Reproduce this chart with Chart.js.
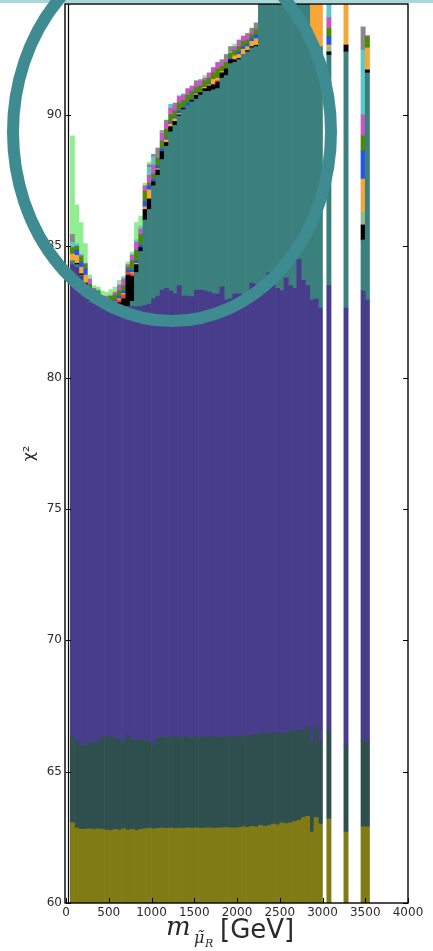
<!DOCTYPE html>
<html>
<head>
<meta charset="utf-8">
<script src="https://cdn.jsdelivr.net/npm/chart.js@4.4.1/dist/chart.umd.min.js"></script>
<style>
    body { margin: 0; background: linear-gradient(#a9d8db 0, #a9d8db 3px, #fff 3px); }
    #wrap { position: relative; width: 433px; height: 951px; }
    .lbl { position: absolute; white-space: nowrap; color: #2a2a2a; line-height: 1; }
    .mi { font-family: "DejaVu Serif", serif; font-style: italic; }
</style>
</head>
<body>
<div id="wrap">
    <canvas id="chi2Chart" width="433" height="951"></canvas>
    <span class="lbl mi" style="left:166px; top:913px; font-size:26px;">m</span>
    <span class="lbl mi" style="left:194px; top:930px; font-size:16px;">μ̃</span>
    <span class="lbl mi" style="left:205px; top:938px; font-size:11px;">R</span>
    <span class="lbl" style="left:220px; top:916px; font-size:26px; font-family:'DejaVu Sans', sans-serif;">[GeV]</span>
</div>
<script>
// 直方图分箱中心 (GeV)
const binCenters = [75, 125, 175, 225, 275, 325, 375, 425, 475, 525,
    575, 625, 675, 725, 775, 825, 875, 925, 975, 1025,
    1075, 1125, 1175, 1225, 1275, 1325, 1375, 1425, 1475, 1525,
    1575, 1625, 1675, 1725, 1775, 1825, 1875, 1925, 1975, 2025,
    2075, 2125, 2175, 2225, 2275, 2325, 2375, 2425, 2475, 2525,
    2575, 2625, 2675, 2725, 2775, 2825, 2875, 2925, 2975,
    3075, 3275, 3475, 3525];

// 主要层的上边界 (chi^2)
const oliveTop = [63.05, 62.85, 62.8, 62.8, 62.82, 62.8, 62.82, 62.8, 62.78, 62.76,
    62.8, 62.78, 62.82, 62.78, 62.8, 62.76, 62.8, 62.82, 62.84, 62.82,
    62.84, 62.85, 62.84, 62.85, 62.83, 62.85, 62.84, 62.86, 62.85, 62.86,
    62.84, 62.85, 62.86, 62.84, 62.85, 62.86, 62.87, 62.86, 62.85, 62.87,
    62.9, 62.88, 62.92, 62.9, 62.95, 62.92, 62.95, 63.0, 62.98, 63.05,
    63.02, 63.05, 63.1, 63.15, 63.25, 63.3, 62.7, 63.25, 63.0,
    63.2, 62.7, 62.9, 62.9];
const slateTop = [66.33, 66.14, 66.0, 65.98, 66.1, 66.1, 66.12, 66.33, 66.32, 66.33,
    66.3, 66.2, 66.1, 66.4, 66.2, 66.2, 66.22, 66.2, 66.15, 66.0,
    66.3, 66.32, 66.3, 66.32, 66.33, 66.31, 66.33, 66.32, 66.3, 66.33,
    66.32, 66.34, 66.32, 66.33, 66.31, 66.33, 66.32, 66.34, 66.33, 66.32,
    66.33, 66.38, 66.37, 66.4, 66.46, 66.44, 66.47, 66.45, 66.48, 66.46,
    66.47, 66.56, 66.55, 66.58, 66.56, 66.7, 66.14, 66.7, 66.14,
    66.52, 66.0, 66.2, 66.1];
const purpleTop = [84.3, 84.2, 83.85, 83.45, 82.85, 82.8, 82.85, 82.75, 82.7, 82.7,
    82.65, 82.7, 82.65, 82.65, 82.7, 82.7, 82.7, 82.75, 82.8, 83.0,
    83.1, 83.33, 83.4, 83.3, 83.2, 83.5, 83.1, 83.1, 83.08, 83.33,
    83.33, 83.3, 83.25, 83.2, 83.2, 83.45, 82.95, 83.0, 83.2, 83.2,
    83.1, 83.05, 83.6, 83.55, 83.5, 83.4, 84.0, 83.5, 83.4, 83.3,
    83.8, 83.5, 83.4, 84.5, 83.7, 83.5, 82.95, 83.0, 82.65,
    83.5, 82.65, 83.3, 82.95];
const tealTop = [84.45, 84.3, 83.9, 83.5, 82.9, 82.85, 82.9, 82.8, 82.75, 82.75,
    82.7, 82.75, 82.7, 82.7, 82.9, 84.0, 84.8, 86.0, 86.4, 87.3,
    87.7, 88.3, 88.8, 89.35, 89.6, 89.95, 90.2, 90.35, 90.5, 90.6,
    90.75, 90.9, 90.9, 90.95, 91.0, 91.4, 91.5, 91.95, 92.0, 92.1,
    92.3, 92.4, 92.55, 92.6, 95, 95, 95, 95, 95, 95,
    95, 95, 95, 95, 95, 95, 92.5, 92.6, 92.6,
    92.28, 92.4, 85.24, 91.6];

// 顶部细层的厚度
const blackW = [0, 0.05, 0.05, 0.1, 0.15, 0.1, 0.1, 0.05, 0.05, 0.05,
    0.1, 0.1, 0.3, 1.2, 0.95, 0.3, 0.15, 0.4, 0.4, 0.15,
    0.2, 0.3, 0.15, 0.2, 0.15, 0.05, 0.05, 0, 0.05, 0.15,
    0.1, 0.1, 0.2, 0.2, 0.25, 0.2, 0.25, 0.15, 0.1, 0.05,
    0, 0.05, 0.05, 0.05, 0, 0, 0, 0, 0, 0,
    0, 0, 0, 0, 0, 0, 0, 0, 0,
    0.12, 0.26, 0.57, 0.11];
const redW = [0, 0, 0, 0, 0, 0, 0, 0, 0.05, 0.05,
    0.1, 0.1, 0.15, 0.1, 0.1, 0, 0, 0, 0, 0,
    0, 0, 0, 0, 0, 0, 0, 0, 0, 0,
    0, 0, 0, 0, 0.05, 0, 0, 0, 0, 0,
    0, 0, 0, 0, 0, 0, 0, 0, 0, 0,
    0, 0, 0, 0, 0, 0, 0, 0, 0,
    0, 0, 0, 0];
const sageW = [0, 0, 0, 0, 0, 0, 0, 0, 0, 0,
    0, 0, 0, 0, 0, 0, 0, 0, 0, 0,
    0, 0, 0, 0, 0, 0, 0, 0, 0, 0,
    0, 0, 0, 0, 0, 0, 0, 0, 0, 0,
    0, 0, 0, 0, 0, 0, 0, 0, 0, 0,
    0, 0, 0, 0, 0, 0, 0, 0, 0,
    0.15, 0, 0.49, 0];
const orangeW = [0.25, 0.3, 0.25, 0.3, 0.3, 0.25, 0.15, 0.1, 0, 0.05,
    0, 0.05, 0.05, 0, 0.05, 0.05, 0, 0.1, 0.35, 0,
    0.05, 0, 0.1, 0.1, 0.1, 0.05, 0, 0, 0, 0.05,
    0, 0.05, 0.05, 0.2, 0.1, 0.05, 0, 0, 0.15, 0.15,
    0.2, 0.15, 0.2, 0.25, 0, 0, 0, 0, 0, 0,
    0, 0, 0, 0, 0, 0, 3.0, 3.0, 3.0,
    0.11, 2.0, 1.26, 0.84];
const blueW = [0, 0.2, 0.2, 0.25, 0.1, 0, 0, 0, 0, 0,
    0.05, 0.1, 0.1, 0.1, 0.1, 0.1, 0.1, 0.2, 0.15, 0.1,
    0.1, 0.1, 0.05, 0.05, 0.05, 0.1, 0.05, 0.1, 0.05, 0.05,
    0, 0, 0.05, 0, 0, 0, 0, 0.05, 0, 0.1,
    0.1, 0.1, 0.1, 0.15, 0, 0, 0, 0, 0, 0,
    0, 0, 0, 0, 0, 0, 0, 0, 0,
    0.31, 0, 1.07, 0];
const greenW = [0.25, 0.15, 0.2, 0.15, 0.1, 0.15, 0.15, 0.15, 0.15, 0.2,
    0.2, 0.2, 0.2, 0.1, 0.35, 0.4, 0.4, 0.4, 0.1, 0.2,
    0.3, 0.3, 0.35, 0.3, 0.25, 0.3, 0.25, 0.3, 0.3, 0.2,
    0.25, 0.25, 0.2, 0.25, 0.35, 0.2, 0.25, 0.2, 0.2, 0.2,
    0.2, 0.15, 0.15, 0.2, 0, 0, 0, 0, 0, 0,
    0, 0, 0, 0, 0, 0, 0, 0, 0,
    0.33, 0, 0.57, 0.42];
const magentaW = [0, 0, 0.05, 0.05, 0.2, 0.05, 0, 0, 0.1, 0,
    0.1, 0.2, 0.25, 0.1, 0.2, 0.3, 0.2, 0.2, 0.3, 0.35,
    0.05, 0.3, 0.25, 0.25, 0.2, 0.25, 0.2, 0.25, 0.2, 0.15,
    0.2, 0.1, 0.2, 0.2, 0.25, 0.1, 0.1, 0, 0.15, 0.25,
    0.2, 0.15, 0.1, 0.05, 0, 0, 0, 0, 0, 0,
    0, 0, 0, 0, 0, 0, 0, 0, 0,
    0.4, 0, 0.8, 0.05];
const cyanW = [0.2, 0.1, 0.05, 0, 0, 0, 0.05, 0, 0, 0.05,
    0, 0.05, 0.05, 0, 0.05, 0.1, 0.1, 0, 0.3, 0.3,
    0, 0.05, 0, 0.15, 0, 0, 0.05, 0, 0, 0,
    0.05, 0, 0, 0, 0, 0, 0, 0.05, 0, 0,
    0, 0, 0, 0, 0, 0, 0, 0, 0, 0,
    0, 0, 0, 0, 0, 0, 0, 0, 0,
    1.0, 0, 2.47, 0];
const grayW = [0.3, 0, 0, 0, 0, 0, 0, 0, 0, 0,
    0, 0, 0, 0, 0, 0, 0, 0, 0.1, 0.1,
    0.34, 0.05, 0.1, 0, 0.1, 0, 0, 0, 0, 0.1,
    0, 0, 0, 0, 0, 0.15, 0.2, 0.2, 0, 0,
    0, 0.1, 0.15, 0.2, 0, 0, 0, 0, 0, 0,
    0, 0, 0, 0, 0, 0, 0, 0, 0,
    0, 0, 0.88, 0];
const lightgreenW = [3.75, 1.47, 1.2, 0.75, 0.15, 0.1, 0.1, 0.2, 0.15, 0.2,
    0.2, 0.15, 0.05, 0.1, 0.08, 0.65, 0.4, 0.1, 0.1, 0,
    0, 0, 0, 0, 0, 0.05, 0, 0, 0, 0,
    0, 0.1, 0, 0, 0, 0, 0, 0, 0.1, 0,
    0, 0, 0, 0, 0, 0, 0, 0, 0, 0,
    0, 0, 0, 0, 0, 0, 0, 0, 0,
    0, 0, 0, 0];

const yTicks = [60, 65, 70, 75, 80, 85, 90];

// 从下到上堆叠
const layers = [
    { values: oliveTop, color: "#817b16" },
    { values: slateTop.map((v, i) => v - oliveTop[i]), color: "#2f4f4f" },
    { values: purpleTop.map((v, i) => v - slateTop[i]), color: "#483d8b" },
    { values: tealTop.map((v, i) => v - purpleTop[i]), color: "#3b807d" },
    { values: blackW, color: "#000000" },
    { values: redW, color: "#ee4433" },
    { values: sageW, color: "#8fbc8f" },
    { values: orangeW, color: "#f5a636" },
    { values: blueW, color: "#2255ee" },
    { values: greenW, color: "#4b8a06" },
    { values: magentaW, color: "#c655c6" },
    { values: cyanW, color: "#5cc8c8" },
    { values: grayW, color: "#888888" },
    { values: lightgreenW, color: "#90ee90" }
];

// 边框、向内刻度和椭圆标注
const framePlugin = {
    id: "frame",
    afterDatasetsDraw(chart) {
        const { ctx, chartArea: a, scales: { x, y } } = chart;
        ctx.save();
        ctx.strokeStyle = "#000";
        ctx.lineWidth = 1.4;
        ctx.strokeRect(a.left - 1, a.top, a.right - a.left + 1, a.bottom - a.top);
        ctx.lineWidth = 1.2;
        ctx.beginPath();
        ctx.moveTo(a.left + 2.5, a.top);
        ctx.lineTo(a.left + 2.5, a.bottom);
        ctx.stroke();
        ctx.lineWidth = 1;
        ctx.beginPath();
        yTicks.forEach(v => {
            const py = Math.round(y.getPixelForValue(v)) + 0.5;
            ctx.moveTo(a.left, py); ctx.lineTo(a.left + 5, py);
            ctx.moveTo(a.right - 5, py); ctx.lineTo(a.right, py);
        });
        x.ticks.forEach(t => {
            const px = Math.round(x.getPixelForValue(t.value)) + 0.5;
            ctx.moveTo(px, a.bottom); ctx.lineTo(px, a.bottom - 5);
        });
        ctx.stroke();
        ctx.restore();
    },
    afterDraw(chart) {
        const ctx = chart.ctx;
        ctx.save();
        ctx.strokeStyle = "#3e8b91";
        ctx.lineWidth = 12;
        ctx.beginPath();
        ctx.ellipse(172, 132, 159, 189, 0, 0, Math.PI * 2);
        ctx.stroke();
        ctx.restore();
    }
};

const tickFont = { family: "DejaVu Sans", size: 12 };

new Chart(document.getElementById("chi2Chart"), {
    type: "bar",
    data: {
        datasets: layers.map(l => ({
            data: binCenters.map((c, i) => ({ x: c, y: l.values[i] > 0 ? l.values[i] : null })),
            backgroundColor: l.color,
            borderWidth: 0,
            barPercentage: 1,
            categoryPercentage: 1
        }))
    },
    options: {
        responsive: false,
        animation: false,
        layout: { padding: { top: 4, right: 25, left: 0, bottom: 0 } },
        plugins: {
            legend: { display: false },
            tooltip: { enabled: false }
        },
        scales: {
            x: {
                type: "linear",
                stacked: true,
                offset: false,
                min: 0,
                max: 4000,
                grid: { display: false, drawTicks: false },
                border: { display: false },
                ticks: { stepSize: 500, color: "#2a2a2a", font: tickFont, padding: 3, maxRotation: 0, callback: v => String(v) },
                afterFit: s => { s.height = 48; s.paddingLeft = 0; s.paddingRight = 0; }
            },
            y: {
                stacked: true,
                min: 60,
                max: 94.22,
                grid: { display: false, drawTicks: false },
                border: { display: false },
                ticks: { stepSize: 5, color: "#2a2a2a", font: tickFont, padding: 4 },
                afterBuildTicks: s => { s.ticks = s.ticks.filter(t => yTicks.includes(t.value)); },
                afterFit: s => { s.width = 66; s.paddingTop = 0; s.paddingBottom = 0; },
                title: {
                    display: true,
                    text: "χ²",
                    color: "#2a2a2a",
                    font: { family: "DejaVu Sans", size: 16 },
                    padding: { top: 20, bottom: 0 }
                }
            }
        }
    },
    plugins: [framePlugin]
});
</script>
</body>
</html>
